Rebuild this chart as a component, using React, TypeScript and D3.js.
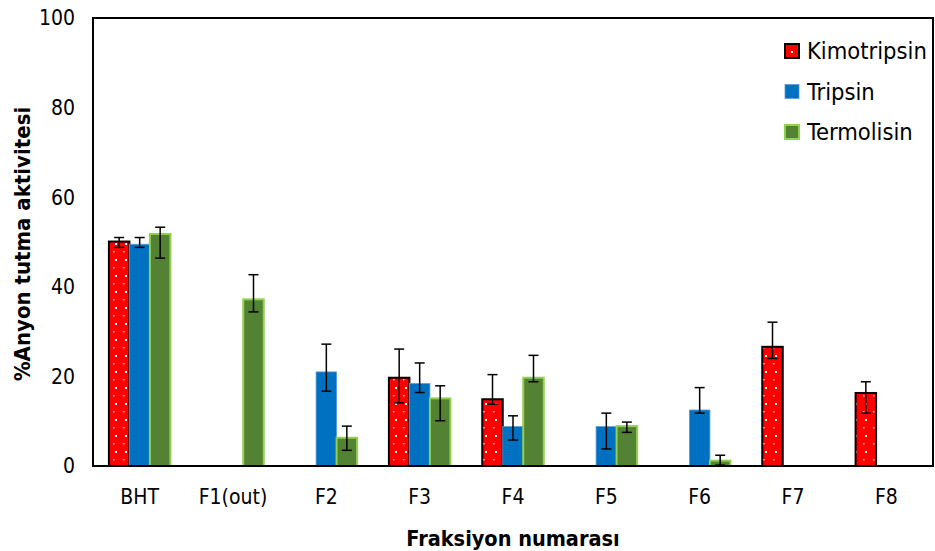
import React from "react";
import * as d3 from "d3";

const categories = ["BHT", "F1(out)", "F2", "F3", "F4", "F5", "F6", "F7", "F8"];
const seriesNames = ["Kimotripsin", "Tripsin", "Termolisin"];

const kimotripsin = [50.1, null, null, 19.7, 14.9, null, null, 26.6, 16.3];
const kimotripsinHi = [51.0, null, null, 26.1, 20.4, null, null, 32.1, 18.8];
const kimotripsinLo = [48.8, null, null, 14.1, 13.8, null, null, 24.0, 11.8];

const tripsin = [49.5, null, 21.0, 18.4, 8.8, 8.8, 12.5, null, null];
const tripsinHi = [51.0, null, 27.2, 23.0, 11.2, 11.8, 17.5, null, null];
const tripsinLo = [48.8, null, 16.7, 16.4, 5.8, 3.8, 11.8, null, null];

const termolisin = [51.8, 37.2, 6.3, 15.1, 19.7, 8.9, 1.2, null, null];
const termolisinHi = [53.3, 42.7, 8.9, 17.9, 24.7, 9.8, 2.4, null, null];
const termolisinLo = [46.4, 34.4, 3.5, 10.1, 18.8, 7.5, 0.2, null, null];

const yTicks = [0, 20, 40, 60, 80, 100];

const W = 935;
const H = 551;
const plot = { left: 93, right: 933, top: 18, bottom: 466 };
const FONT = "'Liberation Sans Narrow', 'DejaVu Sans Condensed', 'Open Sans', sans-serif";

type Style = { fill: string; stroke: string; strokeWidth: number };
const styles: Record<string, Style> = {
  Kimotripsin: { fill: "url(#redDots)", stroke: "#000", strokeWidth: 2 },
  Tripsin: { fill: "#0070C0", stroke: "#5B9BD5", strokeWidth: 0.8 },
  Termolisin: { fill: "#548235", stroke: "#92D050", strokeWidth: 2 },
};

export default function App() {
  const x0 = d3.scaleBand<string>().domain(categories).range([plot.left, plot.right]).padding(0);
  const groupHalf = 30.75;
  const x1 = d3.scaleBand<string>().domain(seriesNames).range([-groupHalf, groupHalf]).padding(0);
  const y = d3.scaleLinear().domain([0, 100]).range([plot.bottom, plot.top]);

  const data: Record<string, { v: (number | null)[]; hi: (number | null)[]; lo: (number | null)[] }> = {
    Kimotripsin: { v: kimotripsin, hi: kimotripsinHi, lo: kimotripsinLo },
    Tripsin: { v: tripsin, hi: tripsinHi, lo: tripsinLo },
    Termolisin: { v: termolisin, hi: termolisinHi, lo: termolisinLo },
  };

  const bw = x1.bandwidth();

  return (
    <svg width={W} height={H} style={{ position: "absolute", left: 0, top: 0, background: "#fff" }}>
      <defs>
        <pattern id="redDots" patternUnits="userSpaceOnUse" width={10} height={16}>
          <rect width={10} height={16} fill="#FF0000" />
          <rect x={5} y={3} width={2} height={2} fill="#fff" />
          <rect x={3} y={11} width={1.5} height={1.5} fill="#fff" opacity={0.85} />
        </pattern>
      </defs>
      <rect x={0} y={0} width={W} height={H} fill="#fff" />

      {/* bars */}
      {seriesNames.map((s) =>
        categories.map((c, i) => {
          const v = data[s].v[i];
          if (v == null) return null;
          const xc = (x0(c) as number) + x0.bandwidth() / 2 + (x1(s) as number);
          const st = styles[s];
          return (
            <rect
              key={s + c}
              x={xc}
              y={y(v)}
              width={bw}
              height={y(0) - y(v)}
              fill={st.fill}
              stroke={st.stroke}
              strokeWidth={st.strokeWidth}
            />
          );
        })
      )}

      {/* error bars */}
      {seriesNames.map((s) =>
        categories.map((c, i) => {
          const v = data[s].v[i];
          const hi = data[s].hi[i];
          const lo = data[s].lo[i];
          if (v == null || hi == null || lo == null) return null;
          const cx = (x0(c) as number) + x0.bandwidth() / 2 + (x1(s) as number) + bw / 2;
          return (
            <g key={"e" + s + c} stroke="#000" strokeWidth={1.5}>
              <line x1={cx} x2={cx} y1={y(hi)} y2={y(lo)} />
              <line x1={cx - 5} x2={cx + 5} y1={y(hi)} y2={y(hi)} />
              <line x1={cx - 5} x2={cx + 5} y1={y(lo)} y2={y(lo)} />
            </g>
          );
        })
      )}

      {/* frame */}
      <rect
        x={plot.left}
        y={plot.top}
        width={plot.right - plot.left}
        height={plot.bottom - plot.top}
        fill="none"
        stroke="#000"
        strokeWidth={2}
      />

      {/* y tick labels */}
      {yTicks.map((t) => (
        <text key={t} x={75} y={y(t)} dy="0.35em" textAnchor="end" fontFamily={FONT} fontSize={21} fill="#000">
          {t}
        </text>
      ))}

      {/* x tick labels */}
      {categories.map((c) => (
        <text
          key={c}
          x={(x0(c) as number) + x0.bandwidth() / 2}
          y={497}
          dy="0.35em"
          textAnchor="middle"
          fontFamily={FONT}
          fontSize={21}
          fill="#000"
        >
          {c}
        </text>
      ))}

      {/* axis titles */}
      <text x={513} y={538} dy="0.35em" textAnchor="middle" fontFamily={FONT} fontSize={21.5} fontWeight="bold" fill="#000">
        Fraksiyon numarası
      </text>
      <text
        transform={`translate(22,${(plot.top + plot.bottom) / 2 + 2}) rotate(-90)`}
        dy="0.35em"
        textAnchor="middle"
        fontFamily={FONT}
        fontSize={22}
        fontWeight="bold"
        fill="#000"
      >
        %Anyon tutma aktivitesi
      </text>

      {/* legend */}
      {seriesNames.map((s, i) => {
        const cy = 51 + i * 40.5;
        const st = styles[s];
        return (
          <g key={"lg" + s}>
            <rect
              x={785}
              y={cy - 7}
              width={14}
              height={14}
              fill={s === "Kimotripsin" ? "#FF0000" : st.fill}
              stroke={st.stroke}
              strokeWidth={st.strokeWidth}
            />
            {s === "Kimotripsin" && <rect x={791} y={cy} width={2} height={2} fill="#fff" />}
            <text x={807} y={cy} dy="0.35em" fontFamily={FONT} fontSize={23.5} fill="#000">
              {s}
            </text>
          </g>
        );
      })}
    </svg>
  );
}
